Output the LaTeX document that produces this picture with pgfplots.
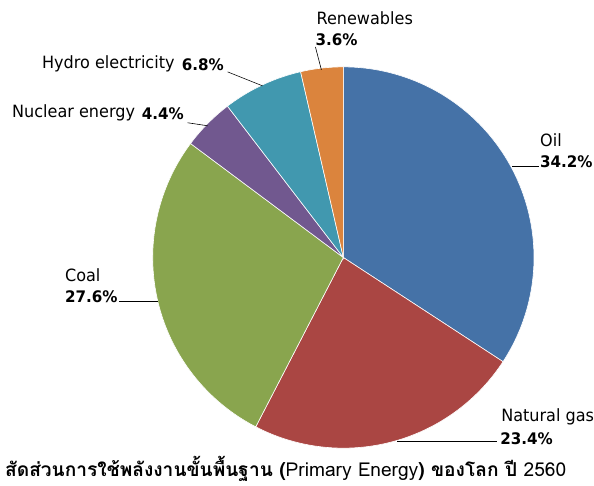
\documentclass[border=0pt]{standalone}
\usepackage{fontspec}
\usepackage{pgfplots}
\pgfplotsset{compat=1.18}
\setmainfont{DejaVu Sans}[FakeStretch=0.95]
\newfontfamily\thaifont[Script=Thai]{Loma}
\definecolor{cOil}{HTML}{4572A7}
\definecolor{cGas}{HTML}{AA4643}
\definecolor{cCoal}{HTML}{89A54E}
\definecolor{cNuc}{HTML}{71588F}
\definecolor{cHyd}{HTML}{4198AF}
\definecolor{cRen}{HTML}{DB843D}
% shares in percent
\def\vOil{34.2}
\def\vGas{23.4}
\def\vCoal{27.6}
\def\vNuc{4.4}
\def\vHyd{6.8}
\def\vRen{3.6}
\pgfmathsetmacro\aA{90}
\pgfmathsetmacro\aB{\aA-3.6*\vOil}
\pgfmathsetmacro\aC{\aB-3.6*\vGas}
\pgfmathsetmacro\aD{\aC-3.6*\vCoal}
\pgfmathsetmacro\aE{\aD-3.6*\vNuc}
\pgfmathsetmacro\aF{\aE-3.6*\vHyd}
\pgfmathsetmacro\aG{\aF-3.6*\vRen}
\def\cx{344}
\def\cy{228}
\def\R{191}
\tikzset{lab/.style={anchor=base west, inner sep=0pt, font=\fontsize{17}{19}\selectfont},
  pct/.style={anchor=base west, inner sep=0pt, font=\fontsize{16}{19}\selectfont\bfseries}}
\begin{document}
\begin{tikzpicture}
\begin{axis}[width=594bp, height=486bp, scale only axis, xmin=0, xmax=594, ymin=0, ymax=486, hide axis, clip=false]
\path (axis cs:0,0) rectangle (axis cs:594,486);
\addplot[fill=cOil, draw=white, line width=0.6pt, domain=\aB:\aA, samples=90, variable=\t] ({\cx+\R*cos(\t)},{\cy+\R*sin(\t)}) -- (axis cs:\cx,\cy) -- cycle;
\addplot[fill=cGas, draw=white, line width=0.6pt, domain=\aC:\aB, samples=70, variable=\t] ({\cx+\R*cos(\t)},{\cy+\R*sin(\t)}) -- (axis cs:\cx,\cy) -- cycle;
\addplot[fill=cCoal, draw=white, line width=0.6pt, domain=\aD:\aC, samples=80, variable=\t] ({\cx+\R*cos(\t)},{\cy+\R*sin(\t)}) -- (axis cs:\cx,\cy) -- cycle;
\addplot[fill=cNuc, draw=white, line width=0.6pt, domain=\aE:\aD, samples=20, variable=\t] ({\cx+\R*cos(\t)},{\cy+\R*sin(\t)}) -- (axis cs:\cx,\cy) -- cycle;
\addplot[fill=cHyd, draw=white, line width=0.6pt, domain=\aF:\aE, samples=25, variable=\t] ({\cx+\R*cos(\t)},{\cy+\R*sin(\t)}) -- (axis cs:\cx,\cy) -- cycle;
\addplot[fill=cRen, draw=white, line width=0.6pt, domain=\aG:\aF, samples=15, variable=\t] ({\cx+\R*cos(\t)},{\cy+\R*sin(\t)}) -- (axis cs:\cx,\cy) -- cycle;
% leader lines
\addplot[black, line width=0.6pt] coordinates {(513,319) (540,319)};
\addplot[black, line width=0.6pt] coordinates {(398,44) (498,44)};
\addplot[black, line width=0.6pt] coordinates {(119,184) (158,184)};
\addplot[black, line width=0.6pt] coordinates {(188,363) (208,360)};
\addplot[black, line width=0.6pt] coordinates {(228,414) (263,400)};
\addplot[black, line width=0.6pt] coordinates {(316,439) (322,416)};
% labels
\node[lab] at (axis cs:541,339) {Oil};
\node[pct] at (axis cs:541,318) {34.2\%};
\node[lab] at (axis cs:502,64) {Natural gas};
\node[pct] at (axis cs:501,41) {23.4\%};
\node[lab] at (axis cs:65,204) {Coal};
\node[pct] at (axis cs:65,183) {27.6\%};
\node[lab] at (axis cs:12,368) {Nuclear energy};
\node[pct] at (axis cs:142,366) {4.4\%};
\node[lab] at (axis cs:42,417) {Hydro electricity};
\node[pct] at (axis cs:182,415) {6.8\%};
\node[lab] at (axis cs:317,461) {Renewables};
\node[pct] at (axis cs:316,440) {3.6\%};
% caption
\node[anchor=base west, inner sep=0pt, font=\thaifont\fontsize{19.25}{22}\selectfont] at (axis cs:5,9) {\textbf{สัดส่วนการใช้พลังงานขั้นพื้นฐาน (}Primary Energy\textbf{) ของโลก ปี }2560};
\end{axis}
\end{tikzpicture}
\end{document}
